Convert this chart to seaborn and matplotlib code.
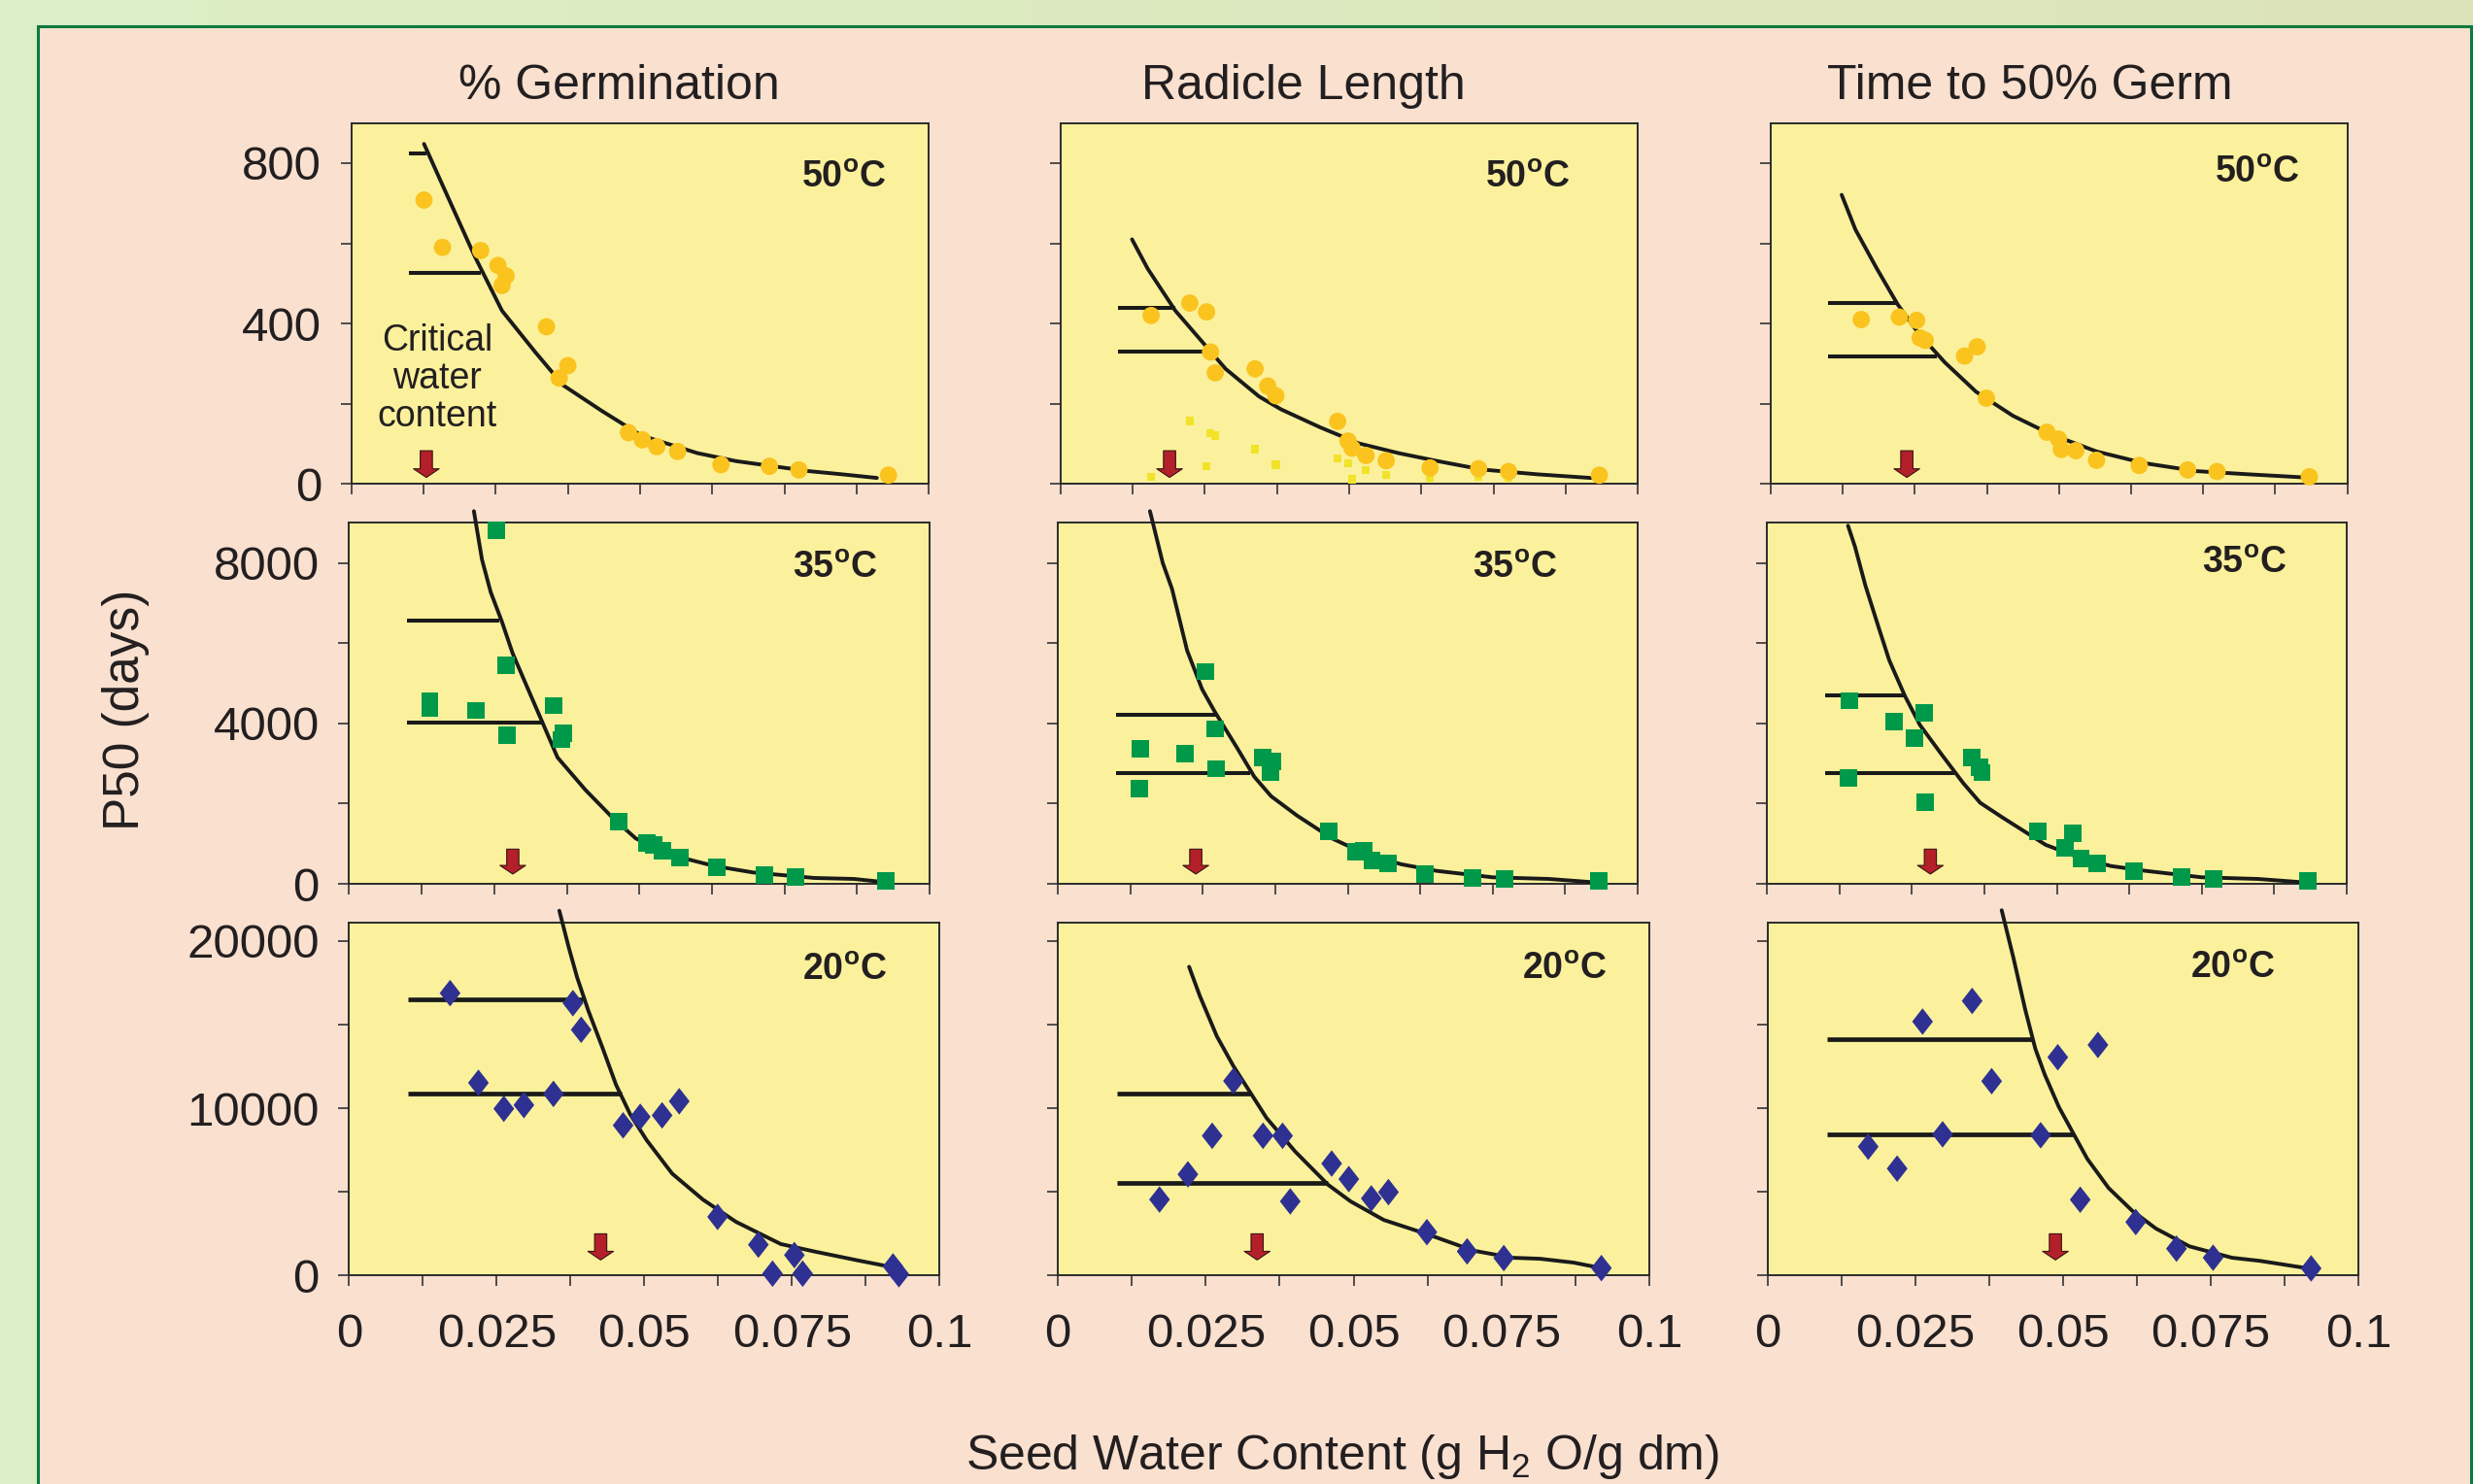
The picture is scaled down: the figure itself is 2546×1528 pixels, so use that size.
import numpy as np
import pandas as pd
import matplotlib.pyplot as plt
import seaborn as sns
from matplotlib.colors import LinearSegmentedColormap
from matplotlib.patches import Rectangle

# ---- data (x = seed water content, y = P50 days) ----
col_titles = ["% Germination", "Radicle Length", "Time to 50% Germ"]
temps = ["50", "35", "20"]

# 50 C
germ50_x = [0.0126, 0.0158, 0.0224, 0.0254, 0.0268, 0.0261, 0.0338, 0.0375, 0.0360, 0.0480,
            0.0504, 0.0529, 0.0565, 0.0640, 0.0724, 0.0775, 0.0930]
germ50_y = [708, 590, 582, 545, 519, 495, 392, 295, 264, 128, 110, 93, 81, 48, 44, 35, 22]
germ50_fit_x = [0.0126, 0.0155, 0.0213, 0.0261, 0.0319, 0.0367, 0.0434, 0.0502, 0.0599, 0.0666,
                0.0792, 0.0850, 0.0910]
germ50_fit_y = [848, 755, 570, 432, 328, 246, 182, 121, 77, 57, 32, 24, 15]
germ50_lines_y = [824, 527]
germ50_lines_end = [0.0130, 0.0224]

rad50_x = [0.0157, 0.0224, 0.0253, 0.0260, 0.0268, 0.0337, 0.0359, 0.0373, 0.0480, 0.0498,
           0.0505, 0.0529, 0.0564, 0.0640, 0.0724, 0.0776, 0.0933]
rad50_y = [420, 451, 429, 329, 277, 287, 244, 220, 156, 107, 89, 71, 58, 40, 38, 31, 22]
rad50_small_x = [0.0157, 0.0224, 0.0260, 0.0268, 0.0253, 0.0337, 0.0373, 0.0480, 0.0498, 0.0505,
                 0.0529, 0.0564, 0.0640, 0.0724, 0.0776, 0.0933]
rad50_small_y = [18, 157, 127, 121, 44, 87, 48, 64, 52, 12, 35, 22, 16, 18, 15, 15]
rad50_fit_x = [0.0124, 0.0151, 0.0199, 0.0238, 0.0286, 0.0344, 0.0382, 0.0450, 0.0517, 0.0585,
               0.0653, 0.0730, 0.0826, 0.0918]
rad50_fit_y = [610, 537, 432, 367, 287, 218, 186, 141, 101, 77, 57, 36, 24, 15]
rad50_lines_y = [440, 329]
rad50_lines_end = [0.0199, 0.0247]

time50_x = [0.0157, 0.0223, 0.0253, 0.0259, 0.0268, 0.0336, 0.0358, 0.0374, 0.0479, 0.0499,
            0.0504, 0.0529, 0.0565, 0.0639, 0.0723, 0.0774, 0.0934]
time50_y = [410, 416, 408, 364, 358, 319, 342, 214, 129, 112, 86, 83, 59, 46, 35, 31, 18]
time50_fit_x = [0.0123, 0.0147, 0.0184, 0.0220, 0.0256, 0.0302, 0.0356, 0.0420, 0.0484, 0.0565,
                0.0647, 0.0738, 0.0829, 0.0929]
time50_fit_y = [721, 634, 537, 448, 376, 303, 230, 170, 125, 81, 52, 32, 24, 16]
time50_lines_y = [452, 319]
time50_lines_end = [0.0220, 0.0288]

# 35 C
germ35_x = [0.0253, 0.0139, 0.0139, 0.0219, 0.0270, 0.0272, 0.0352, 0.0369, 0.0366, 0.0465,
            0.0513, 0.0525, 0.0540, 0.0570, 0.0633, 0.0715, 0.0769, 0.0925]
germ35_y = [8807, 4565, 4380, 4323, 5454, 3701, 4444, 3757, 3596, 1559, 1010, 970, 832, 646,
            404, 226, 162, 80]
germ35_fit_x = [0.0215, 0.0229, 0.0244, 0.0263, 0.0282, 0.0306, 0.0335, 0.0359, 0.0407, 0.0456,
                0.0494, 0.0552, 0.0629, 0.0696, 0.0802, 0.0870, 0.0910]
germ35_fit_y = [9290, 8080, 7270, 6545, 5737, 4929, 3959, 3151, 2343, 1616, 1131, 727, 444, 283,
                145, 121, 60]
germ35_lines_y = [6562, 4016]
germ35_lines_end = [0.0258, 0.0335]

rad35_x = [0.0255, 0.0142, 0.0140, 0.0220, 0.0272, 0.0273, 0.0353, 0.0371, 0.0367, 0.0467,
           0.0514, 0.0527, 0.0542, 0.0570, 0.0633, 0.0715, 0.0770, 0.0933]
rad35_y = [5292, 3370, 2368, 3248, 3862, 2868, 3151, 3054, 2788, 1309, 792, 824, 590, 501, 242,
           145, 121, 65]
rad35_fit_x = [0.0159, 0.0181, 0.0197, 0.0223, 0.0249, 0.0271, 0.0309, 0.0339, 0.0368, 0.0413,
               0.0473, 0.0533, 0.0593, 0.0653, 0.0750, 0.0847, 0.0922]
rad35_fit_y = [9290, 8000, 7353, 5818, 4848, 4283, 3394, 2666, 2182, 1697, 1131, 727, 485, 323,
               162, 121, 40]
rad35_lines_y = [4218, 2763]
rad35_lines_end = [0.0275, 0.0331]

time35_x = [0.0143, 0.0140, 0.0220, 0.0255, 0.0272, 0.0273, 0.0353, 0.0367, 0.0371, 0.0467,
            0.0527, 0.0514, 0.0542, 0.0570, 0.0633, 0.0715, 0.0770, 0.0933]
time35_y = [4565, 2642, 4040, 3636, 4266, 2044, 3151, 2909, 2771, 1309, 1253, 890, 630, 501,
            323, 162, 121, 65]
time35_fit_x = [0.0140, 0.0152, 0.0170, 0.0193, 0.0211, 0.0238, 0.0264, 0.0301, 0.0339, 0.0368,
                0.0406, 0.0481, 0.0533, 0.0593, 0.0653, 0.0750, 0.0847, 0.0922]
time35_fit_y = [8928, 8404, 7434, 6382, 5575, 4686, 3959, 3232, 2504, 2019, 1656, 970, 686, 444,
                323, 162, 121, 40]
time35_lines_y = [4703, 2763]
time35_lines_end = [0.0238, 0.0324]

# 20 C
germ20_x = [0.0171, 0.0219, 0.0262, 0.0296, 0.0346, 0.0379, 0.0393, 0.0464, 0.0493, 0.0530,
            0.0559, 0.0624, 0.0693, 0.0717, 0.0754, 0.0768, 0.0921, 0.0931]
germ20_y = [16876, 11515, 9965, 10185, 10853, 16277, 14686, 8972, 9483, 9570, 10412, 3502, 1841,
            110, 1219, 110, 540, 75]
germ20_fit_x = [0.0356, 0.0372, 0.0386, 0.0405, 0.0429, 0.0452, 0.0476, 0.0504, 0.0547, 0.0599,
                0.0655, 0.0731, 0.0787, 0.0863, 0.0905]
germ20_fit_y = [21800, 19600, 17830, 15840, 13620, 11400, 9630, 8080, 6090, 4540, 3210, 1880,
                1440, 890, 600]
germ20_lines_y = [16498, 10853]
germ20_lines_end = [0.0396, 0.0462]

rad20_x = [0.0172, 0.0220, 0.0261, 0.0297, 0.0347, 0.0380, 0.0393, 0.0463, 0.0492, 0.0530,
           0.0559, 0.0624, 0.0692, 0.0754, 0.0919]
rad20_y = [4541, 6045, 8350, 11626, 8350, 8350, 4430, 6690, 5761, 4605, 4982, 2590, 1440, 1040,
           441]
rad20_fit_x = [0.0222, 0.0240, 0.0269, 0.0297, 0.0325, 0.0353, 0.0401, 0.0457, 0.0495, 0.0551,
               0.0627, 0.0702, 0.0768, 0.0815, 0.0872, 0.0919]
rad20_fit_y = [18450, 16720, 14290, 12510, 10960, 9410, 7420, 5420, 4430, 3320, 2440, 1490, 1060,
               1000, 770, 440]
rad20_lines_y = [10853, 5534]
rad20_lines_end = [0.0325, 0.0457]

time20_x = [0.0170, 0.0219, 0.0262, 0.0296, 0.0346, 0.0379, 0.0462, 0.0491, 0.0529, 0.0559,
            0.0623, 0.0692, 0.0754, 0.0920]
time20_y = [7700, 6388, 15174, 8438, 16411, 11614, 8380, 13043, 4529, 13780, 3194, 1603, 1063,
            424]
time20_fit_x = [0.0396, 0.0416, 0.0436, 0.0453, 0.0469, 0.0493, 0.0517, 0.0541, 0.0577, 0.0617,
                0.0657, 0.0714, 0.0786, 0.0834, 0.0923]
time20_fit_y = [21830, 18970, 15870, 13550, 12000, 10060, 8510, 6970, 5230, 3870, 2810, 1740,
                1060, 870, 380]
time20_lines_y = [14128, 8420]
time20_lines_end = [0.0449, 0.0517]

# critical water content (red arrows), per column
critical_50 = [0.0130, 0.0189, 0.0236]
critical_35 = [0.0282, 0.0238, 0.0282]
critical_20 = [0.0426, 0.0337, 0.0487]
line_start = 0.0100

x_ticks = [0, 0.0125, 0.025, 0.0375, 0.05, 0.0625, 0.075, 0.0875, 0.1]
x_ticklabels = ["0", "", "0.025", "", "0.05", "", "0.075", "", "0.1"]
y_ticks_50 = [0, 200, 400, 600, 800]
y_ticklabels_50 = ["0", "", "400", "", "800"]
y_ticks_35 = [0, 2000, 4000, 6000, 8000]
y_ticklabels_35 = ["0", "", "4000", "", "8000"]
y_ticks_20 = [0, 5000, 10000, 15000, 20000]
y_ticklabels_20 = ["0", "", "10000", "", "20000"]

# ---- styling ----
W, H = 2546, 1528
PEACH = "#F9E0CF"
PANEL = "#FBF19C"
FRAME = "#0B7A3E"
TEXT = "#231F20"
ARROW = "#B3202A"
COLORS = ["#FAC31E", "#00994A", "#2E3192"]
SMALL_SQ = "#F2E22A"
DIAMOND = [(0, 1), (0.78, 0), (0, -1), (-0.78, 0), (0, 1)]
MARKERS = [("o", 165), ("s", 165), (DIAMOND, 390)]

# panel boxes in pixels: rows (top, bottom), columns (left, right)
ROWS = [(126.7, 498.3), (538.3, 910.0), (949.8, 1313.3)]
COLS = [[(361.6, 956.3), (1091.7, 1686.4), (1823.0, 2416.7)],
        [(359.4, 957.0), (1089.0, 1686.0), (1819.0, 2416.0)],
        [(359.4, 967.4), (1089.0, 1698.0), (1820.0, 2428.0)]]
YMAX = [900, 9000, 21100]
TEMP_POS = [[(0.78, 0.849), (0.735, 0.849), (0.77, 0.862)],
            [(0.764, 0.874), (0.716, 0.874), (0.751, 0.888)],
            [(0.768, 0.866), (0.785, 0.867), (0.715, 0.871)]]
ARROW_POS = [(0.018, 0.092), (0.027, 0.096), (0.044, 0.118)]


def main() -> None:
    sns.set_style("ticks")
    plt.rcParams["font.family"] = ["Liberation Sans", "DejaVu Sans"]
    plt.rcParams["mathtext.fontset"] = "custom"
    plt.rcParams["mathtext.rm"] = "Liberation Sans"
    plt.rcParams["mathtext.bf"] = "Liberation Sans:bold"

    panels = [
        [(germ50_x, germ50_y, germ50_fit_x, germ50_fit_y, germ50_lines_y, germ50_lines_end),
         (rad50_x, rad50_y, rad50_fit_x, rad50_fit_y, rad50_lines_y, rad50_lines_end),
         (time50_x, time50_y, time50_fit_x, time50_fit_y, time50_lines_y, time50_lines_end)],
        [(germ35_x, germ35_y, germ35_fit_x, germ35_fit_y, germ35_lines_y, germ35_lines_end),
         (rad35_x, rad35_y, rad35_fit_x, rad35_fit_y, rad35_lines_y, rad35_lines_end),
         (time35_x, time35_y, time35_fit_x, time35_fit_y, time35_lines_y, time35_lines_end)],
        [(germ20_x, germ20_y, germ20_fit_x, germ20_fit_y, germ20_lines_y, germ20_lines_end),
         (rad20_x, rad20_y, rad20_fit_x, rad20_fit_y, rad20_lines_y, rad20_lines_end),
         (time20_x, time20_y, time20_fit_x, time20_fit_y, time20_lines_y, time20_lines_end)],
    ]
    criticals = [critical_50, critical_35, critical_20]
    y_ticks = [(y_ticks_50, y_ticklabels_50), (y_ticks_35, y_ticklabels_35),
               (y_ticks_20, y_ticklabels_20)]

    fig = plt.figure(figsize=(W / 100, H / 100), dpi=100)

    # background: light green gradient with a peach panel framed in green
    bg = fig.add_axes([0, 0, 1, 1], zorder=-10)
    cmap = LinearSegmentedColormap.from_list("bg", ["#DCEFC6", "#DCE3B9"])
    bg.imshow(np.linspace(0, 1, 256).reshape(1, -1), cmap=cmap, aspect="auto",
              extent=[0, 1, 0, 1])
    bg.add_patch(Rectangle((39 / W, -0.02), (2544 - 39) / W, 1.02 - 27 / H,
                           facecolor=PEACH, edgecolor=FRAME, lw=2.2))
    bg.set_xlim(0, 1)
    bg.set_ylim(0, 1)
    bg.set_axis_off()

    for r in range(3):
        top, bottom = ROWS[r]
        marker, size = MARKERS[r]
        for c in range(3):
            left, right = COLS[r][c]
            ax = fig.add_axes([left / W, 1 - bottom / H, (right - left) / W, (bottom - top) / H])
            ax.set_facecolor(PANEL)
            px, py, fx, fy, ly, lend = panels[r][c]

            lw_h = 3.4 if r == 2 else 2.9
            ax.hlines(ly, line_start, lend, color="#1a1a1a", lw=lw_h, zorder=3)
            sns.lineplot(x=fx, y=fy, ax=ax, color="#1a1a1a", lw=2.8, sort=False,
                         estimator=None, clip_on=False, zorder=3)
            if r == 0 and c == 1:
                sns.scatterplot(x=rad50_small_x, y=rad50_small_y, ax=ax, marker="s", s=36,
                                color=SMALL_SQ, edgecolor="none", linewidth=0, zorder=3)
            sns.scatterplot(x=px, y=py, ax=ax, marker=marker, s=size, color=COLORS[r],
                            edgecolor="none", linewidth=0, zorder=4, clip_on=False)

            tip, tail = ARROW_POS[r]
            ax.annotate("", xy=(criticals[r][c], tip), xytext=(criticals[r][c], tail),
                        xycoords=("data", "axes fraction"),
                        textcoords=("data", "axes fraction"),
                        arrowprops=dict(arrowstyle="simple,head_length=0.32,head_width=0.95,tail_width=0.45",
                                        fc=ARROW, ec="#3a1212", lw=0.8, shrinkA=0, shrinkB=0,
                                        mutation_scale=20), zorder=5)

            ax.set_xlim(0, 0.1)
            ax.set_ylim(0, YMAX[r])
            ax.set_xticks(x_ticks)
            ax.set_xticklabels(x_ticklabels if r == 2 else [""] * len(x_ticks))
            ax.set_yticks(y_ticks[r][0])
            ax.set_yticklabels(y_ticks[r][1] if c == 0 else [""] * len(y_ticks[r][0]))
            ax.set_xlabel("")
            ax.set_ylabel("")
            ax.tick_params(axis="both", direction="out", length=8, width=1.2, color="#333333",
                           labelsize=35.5, labelcolor=TEXT)
            ax.tick_params(axis="x", pad=20)
            ax.tick_params(axis="y", pad=14)
            for sp in ax.spines.values():
                sp.set_visible(True)
                sp.set_color("#2b2b2b")
                sp.set_linewidth(1.4)

            tx, ty = TEMP_POS[r][c]
            ax.text(tx, ty, temps[r] + r"$^\mathregular{o}$C", transform=ax.transAxes,
                    ha="left", va="center", fontsize=27, fontweight="bold", color=TEXT)

            if r == 0 and c == 0:
                ax.text(0.0149, 262, "Critical\nwater\ncontent", ha="center", va="center",
                        fontsize=27, color=TEXT, linespacing=1.12)

    # column titles
    for name, cx in zip(col_titles, [637, 1342, 2090]):
        fig.text(cx / W, 1 - 101.7 / H, name, ha="center", va="baseline", fontsize=36,
                 color=TEXT)

    fig.text(129.7 / W, 1 - 730.8 / H, "P50 (days)", rotation=90, ha="center", va="center",
             fontsize=37, color=TEXT)
    fig.text(1382 / W, 1 - 1513 / H, r"Seed Water Content (g H$_\mathregular{2}$ O/g dm)",
             ha="center", va="baseline", fontsize=36, color=TEXT)

    fig.savefig("out.png", dpi=100, facecolor=fig.get_facecolor())


if __name__ == "__main__":
    main()
